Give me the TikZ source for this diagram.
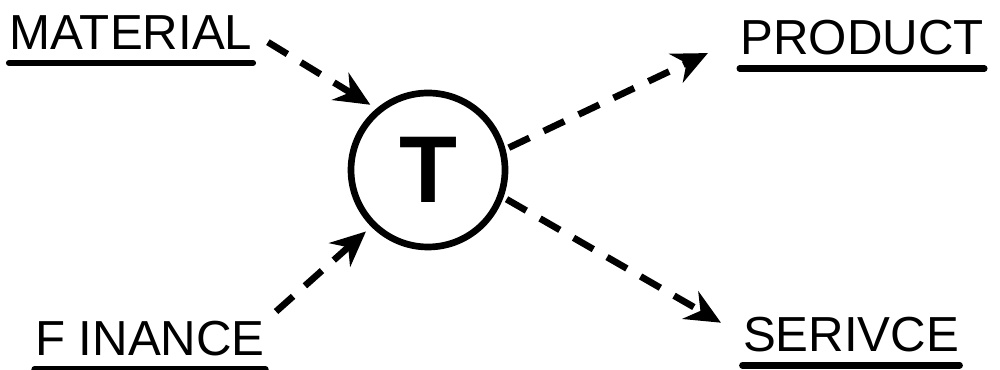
\documentclass[tikz,border=0pt]{standalone}
\usepackage{fontspec}
\setmainfont{Liberation Sans}
\usetikzlibrary{arrows.meta,calc,positioning}

\begin{document}
\begin{tikzpicture}[font=\fontsize{14}{16}\selectfont,>={Stealth[length=10pt,width=9pt]},
    word/.style={inner sep=0pt},
    flow/.style={->,line width=1.9pt,dash pattern=on 6.5pt off 4.5pt},
    uline/.style={line width=1.8pt,line cap=round}]
    \useasboundingbox (0,0) rectangle (10,3.7);
    \node[word] (mat) at (1.31,3.37) {MATERIAL};
    \node[word] (prod) at (8.62,3.32) {PRODUCT};
    \node[word] (fin) at (1.50,0.31) {F INANCE};
    \node[word] (serv) at (8.51,0.35) {SERIVCE};
    \node[circle, draw, line width=1.9pt, minimum size=1.54cm, inner sep=0pt,
      font=\fontsize{27}{29}\selectfont\bfseries] (t) at (4.28,2.00) {T};
    \foreach \n in {mat,prod,fin,serv} {
      \draw[uline] ([yshift=-3.5pt]\n.south west) -- ([yshift=-3.5pt]\n.south east);
    }
    \draw[flow, shorten <=5pt, shorten >=2pt] (mat.east) -- (t.130);
    \draw[flow, shorten <=4pt, shorten >=2pt] (fin.north east) -- (t.225);
    \draw[flow, shorten <=1pt, shorten >=10pt] (t.15) -- (prod.west);
    \draw[flow, shorten <=1pt, shorten >=7pt] (t.-20) -- (serv.west);
  \end{tikzpicture}
\end{document}
